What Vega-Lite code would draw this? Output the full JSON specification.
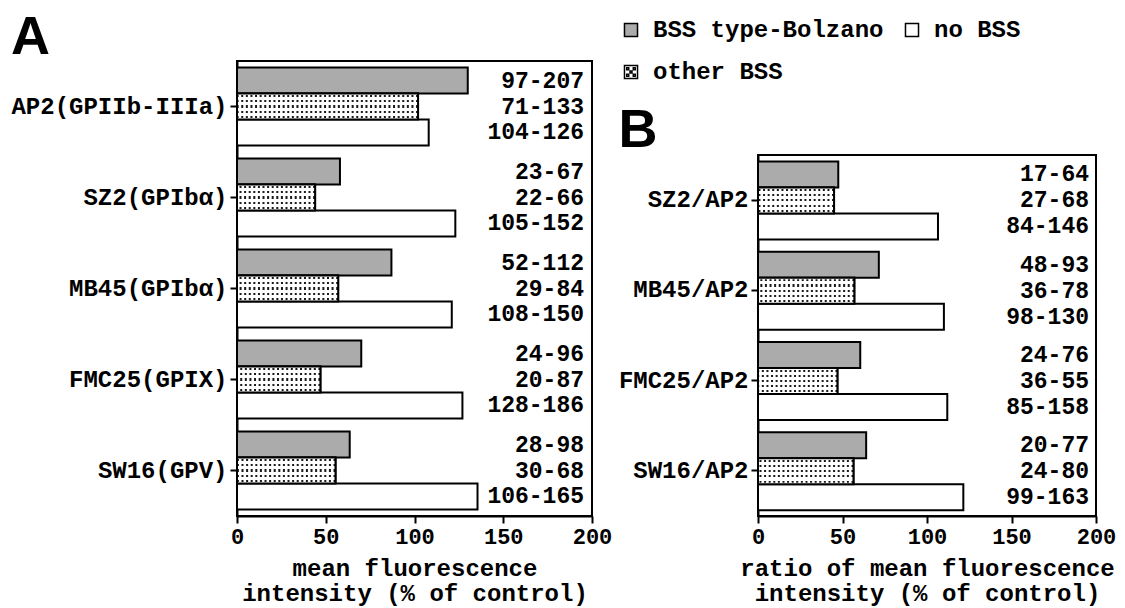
{
  "$schema": "https://vega.github.io/schema/vega-lite/v6.json",
  "background": "white",
  "padding": {"left": 9, "top": 10, "right": 0, "bottom": 0},
  "datasets": {
    "A": [
      {"antibody": "AP2(GPIIb-IIIa)", "group": "BSS type-Bolzano", "value": 130, "range": "97-207"},
      {"antibody": "AP2(GPIIb-IIIa)", "group": "other BSS", "value": 102, "range": "71-133"},
      {"antibody": "AP2(GPIIb-IIIa)", "group": "no BSS", "value": 108, "range": "104-126"},
      {"antibody": "SZ2(GPIbα)", "group": "BSS type-Bolzano", "value": 58, "range": "23-67"},
      {"antibody": "SZ2(GPIbα)", "group": "other BSS", "value": 44, "range": "22-66"},
      {"antibody": "SZ2(GPIbα)", "group": "no BSS", "value": 123, "range": "105-152"},
      {"antibody": "MB45(GPIbα)", "group": "BSS type-Bolzano", "value": 87, "range": "52-112"},
      {"antibody": "MB45(GPIbα)", "group": "other BSS", "value": 57, "range": "29-84"},
      {"antibody": "MB45(GPIbα)", "group": "no BSS", "value": 121, "range": "108-150"},
      {"antibody": "FMC25(GPIX)", "group": "BSS type-Bolzano", "value": 70, "range": "24-96"},
      {"antibody": "FMC25(GPIX)", "group": "other BSS", "value": 47, "range": "20-87"},
      {"antibody": "FMC25(GPIX)", "group": "no BSS", "value": 127, "range": "128-186"},
      {"antibody": "SW16(GPV)", "group": "BSS type-Bolzano", "value": 63.5, "range": "28-98"},
      {"antibody": "SW16(GPV)", "group": "other BSS", "value": 55.5, "range": "30-68"},
      {"antibody": "SW16(GPV)", "group": "no BSS", "value": 135.5, "range": "106-165"}
    ],
    "B": [
      {"antibody": "SZ2/AP2", "group": "BSS type-Bolzano", "value": 47.5, "range": "17-64"},
      {"antibody": "SZ2/AP2", "group": "other BSS", "value": 45, "range": "27-68"},
      {"antibody": "SZ2/AP2", "group": "no BSS", "value": 106.5, "range": "84-146"},
      {"antibody": "MB45/AP2", "group": "BSS type-Bolzano", "value": 71.5, "range": "48-93"},
      {"antibody": "MB45/AP2", "group": "other BSS", "value": 57, "range": "36-78"},
      {"antibody": "MB45/AP2", "group": "no BSS", "value": 110, "range": "98-130"},
      {"antibody": "FMC25/AP2", "group": "BSS type-Bolzano", "value": 60.5, "range": "24-76"},
      {"antibody": "FMC25/AP2", "group": "other BSS", "value": 47, "range": "36-55"},
      {"antibody": "FMC25/AP2", "group": "no BSS", "value": 112, "range": "85-158"},
      {"antibody": "SW16/AP2", "group": "BSS type-Bolzano", "value": 64, "range": "20-77"},
      {"antibody": "SW16/AP2", "group": "other BSS", "value": 56.5, "range": "24-80"},
      {"antibody": "SW16/AP2", "group": "no BSS", "value": 121.5, "range": "99-163"}
    ]
  },
  "spacing": 4,
  "hconcat": [
    {
      "width": 355,
      "height": 455,
      "title": {"text": "A", "anchor": "start", "frame": "bounds", "font": "Liberation Sans", "fontSize": 54, "fontWeight": "bold", "baseline": "alphabetic", "offset": -47, "color": "black"},
      "data": {"name": "A"},
      "encoding": {
        "y": {"field": "antibody", "type": "nominal", "scale": {"domain": ["AP2(GPIIb-IIIa)", "SZ2(GPIbα)", "MB45(GPIbα)", "FMC25(GPIX)", "SW16(GPV)"], "paddingInner": 0.143, "paddingOuter": 0.0715}, "axis": {"title": null}},
        "yOffset": {"field": "group", "type": "nominal", "scale": {"domain": ["BSS type-Bolzano", "other BSS", "no BSS"], "paddingInner": 0, "paddingOuter": 0}}
      },
      "layer": [
        {
          "mark": {"type": "bar", "stroke": "black", "strokeWidth": 2},
          "encoding": {
            "x": {"field": "value", "type": "quantitative", "scale": {"domain": [0, 200], "nice": false}, "axis": {"values": [0, 50, 100, 150, 200], "title": ["mean fluorescence", "intensity (% of control)"]}},
            "fill": {"field": "group", "type": "nominal", "scale": {"domain": ["BSS type-Bolzano", "other BSS", "no BSS"], "range": ["#ababab", "white", "white"]},
              "legend": {"orient": "none", "legendX": 382, "legendY": -43, "title": null, "columns": 2, "symbolType": "square", "symbolSize": 170, "symbolStrokeColor": "black", "symbolStrokeWidth": 1.5, "labelFont": "Liberation Mono", "labelFontWeight": "bold", "labelFontSize": 24, "labelColor": "black", "labelOffset": 10, "columnPadding": 16, "rowPadding": 18, "labelLimit": 400,
                "encode": {"symbols": {"update": {"shape": {"signal": "datum.value === 'other BSS' ? 'M-1,-1H1V1H-1Z M-0.65,-0.65h0.3v0.3h-0.3Z M0.35,-0.65h0.3v0.3h-0.3Z M-0.65,0.35h0.3v0.3h-0.3Z M0.35,0.35h0.3v0.3h-0.3Z M-0.15,-0.15h0.3v0.3h-0.3Z' : 'square'"}}}}}}
          }
        },
        {
          "transform": [{"filter": "datum.group === 'other BSS'"}],
          "mark": {"type": "rule", "strokeWidth": 23, "strokeDash": [2, 2.6], "color": "#1a1a1a"},
          "encoding": {"x": {"field": "value", "type": "quantitative"}, "x2": {"datum": 0}}
        },
        {
          "transform": [{"filter": "datum.group === 'other BSS'"}],
          "mark": {"type": "bar", "strokeWidth": 0, "fill": {"gradient": "linear", "x1": 0, "y1": 0, "x2": 0, "y2": 1, "stops": [
            {"offset": 0, "color": "white"}, {"offset": 0.06, "color": "white"}, {"offset": 0.06, "color": "rgba(255,255,255,0)"}, {"offset": 0.14, "color": "rgba(255,255,255,0)"}, {"offset": 0.14, "color": "white"},
            {"offset": 0.26, "color": "white"}, {"offset": 0.26, "color": "rgba(255,255,255,0)"}, {"offset": 0.34, "color": "rgba(255,255,255,0)"}, {"offset": 0.34, "color": "white"},
            {"offset": 0.46, "color": "white"}, {"offset": 0.46, "color": "rgba(255,255,255,0)"}, {"offset": 0.54, "color": "rgba(255,255,255,0)"}, {"offset": 0.54, "color": "white"},
            {"offset": 0.66, "color": "white"}, {"offset": 0.66, "color": "rgba(255,255,255,0)"}, {"offset": 0.74, "color": "rgba(255,255,255,0)"}, {"offset": 0.74, "color": "white"},
            {"offset": 0.86, "color": "white"}, {"offset": 0.86, "color": "rgba(255,255,255,0)"}, {"offset": 0.94, "color": "rgba(255,255,255,0)"}, {"offset": 0.94, "color": "white"},
            {"offset": 1, "color": "white"}]}},
          "encoding": {"x": {"field": "value", "type": "quantitative"}}
        },
        {
          "transform": [{"filter": "datum.group === 'other BSS'"}],
          "mark": {"type": "bar", "fill": "transparent", "stroke": "black", "strokeWidth": 2},
          "encoding": {"x": {"field": "value", "type": "quantitative"}}
        },
        {
          "mark": {"type": "text", "align": "right", "baseline": "middle", "dx": -8, "font": "Liberation Mono", "fontWeight": "bold", "fontSize": 23, "color": "black"},
          "encoding": {"x": {"datum": 200}, "text": {"field": "range", "type": "nominal"}}
        }
      ]
    },
    {
      "spacing": 0,
      "vconcat": [
        {
          "width": 60,
          "height": 42,
          "view": {"stroke": null},
          "data": {"values": [{"t": ""}]},
          "mark": {"type": "text"},
          "encoding": {"text": {"field": "t", "type": "nominal"}}
        },
        {
          "width": 338,
          "height": 361,
          "title": {"text": "B", "anchor": "start", "frame": "bounds", "font": "Liberation Sans", "fontSize": 54, "fontWeight": "bold", "baseline": "alphabetic", "offset": -46, "color": "black"},
          "data": {"name": "B"},
          "encoding": {
            "y": {"field": "antibody", "type": "nominal", "scale": {"domain": ["SZ2/AP2", "MB45/AP2", "FMC25/AP2", "SW16/AP2"], "paddingInner": 0.143, "paddingOuter": 0.0715}, "axis": {"title": null}},
            "yOffset": {"field": "group", "type": "nominal", "scale": {"domain": ["BSS type-Bolzano", "other BSS", "no BSS"], "paddingInner": 0, "paddingOuter": 0}}
          },
          "layer": [
            {
              "mark": {"type": "bar", "stroke": "black", "strokeWidth": 2},
              "encoding": {
                "x": {"field": "value", "type": "quantitative", "scale": {"domain": [0, 200], "nice": false}, "axis": {"values": [0, 50, 100, 150, 200], "title": ["ratio of mean fluorescence", "intensity (% of control)"]}},
                "fill": {"field": "group", "type": "nominal", "scale": {"domain": ["BSS type-Bolzano", "other BSS", "no BSS"], "range": ["#ababab", "white", "white"]}, "legend": null}
              }
            },
            {
              "transform": [{"filter": "datum.group === 'other BSS'"}],
              "mark": {"type": "rule", "strokeWidth": 23, "strokeDash": [2, 2.6], "color": "#1a1a1a"},
              "encoding": {"x": {"field": "value", "type": "quantitative"}, "x2": {"datum": 0}}
            },
            {
              "transform": [{"filter": "datum.group === 'other BSS'"}],
              "mark": {"type": "bar", "strokeWidth": 0, "fill": {"gradient": "linear", "x1": 0, "y1": 0, "x2": 0, "y2": 1, "stops": [
                {"offset": 0, "color": "white"}, {"offset": 0.06, "color": "white"}, {"offset": 0.06, "color": "rgba(255,255,255,0)"}, {"offset": 0.14, "color": "rgba(255,255,255,0)"}, {"offset": 0.14, "color": "white"},
                {"offset": 0.26, "color": "white"}, {"offset": 0.26, "color": "rgba(255,255,255,0)"}, {"offset": 0.34, "color": "rgba(255,255,255,0)"}, {"offset": 0.34, "color": "white"},
                {"offset": 0.46, "color": "white"}, {"offset": 0.46, "color": "rgba(255,255,255,0)"}, {"offset": 0.54, "color": "rgba(255,255,255,0)"}, {"offset": 0.54, "color": "white"},
                {"offset": 0.66, "color": "white"}, {"offset": 0.66, "color": "rgba(255,255,255,0)"}, {"offset": 0.74, "color": "rgba(255,255,255,0)"}, {"offset": 0.74, "color": "white"},
                {"offset": 0.86, "color": "white"}, {"offset": 0.86, "color": "rgba(255,255,255,0)"}, {"offset": 0.94, "color": "rgba(255,255,255,0)"}, {"offset": 0.94, "color": "white"},
                {"offset": 1, "color": "white"}]}},
              "encoding": {"x": {"field": "value", "type": "quantitative"}}
            },
            {
              "transform": [{"filter": "datum.group === 'other BSS'"}],
              "mark": {"type": "bar", "fill": "transparent", "stroke": "black", "strokeWidth": 2},
              "encoding": {"x": {"field": "value", "type": "quantitative"}}
            },
            {
              "mark": {"type": "text", "align": "right", "baseline": "middle", "dx": -7, "font": "Liberation Mono", "fontWeight": "bold", "fontSize": 23, "color": "black"},
              "encoding": {"x": {"datum": 200}, "text": {"field": "range", "type": "nominal"}}
            }
          ]
        }
      ]
    }
  ],
  "config": {
    "view": {"stroke": "black", "strokeWidth": 2},
    "axis": {"domainColor": "black", "domainWidth": 2, "tickColor": "black", "tickWidth": 2, "labelColor": "black", "titleColor": "black", "labelFont": "Liberation Mono", "labelFontWeight": "bold", "titleFont": "Liberation Mono", "titleFontWeight": "bold", "grid": false},
    "axisX": {"labelFontSize": 22, "tickSize": 7, "labelPadding": 3, "titleFontSize": 24, "titleLineHeight": 25, "titlePadding": 9, "labelFlush": false, "labelOverlap": false},
    "axisY": {"labelFontSize": 24, "tickSize": 7, "labelPadding": 3, "labelLimit": 400}
  }
}
